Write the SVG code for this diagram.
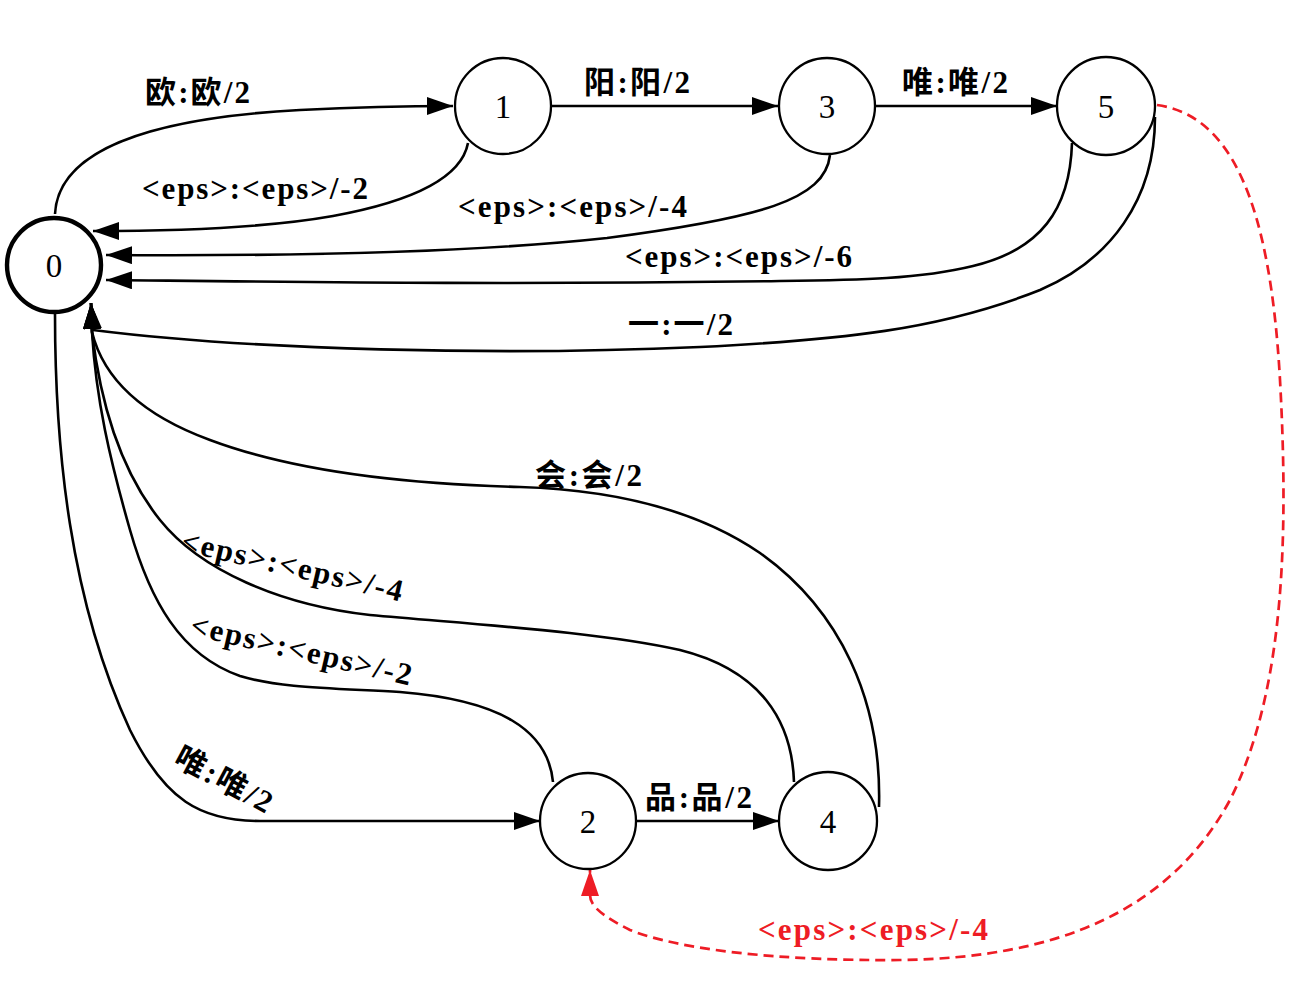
<svg xmlns="http://www.w3.org/2000/svg" width="1300" height="994" viewBox="0 0 1300 994">
<style>
.node{fill:#fff;stroke:#000;stroke-width:2.3}
.start{fill:#fff;stroke:#000;stroke-width:4.4}
.nl{font-family:"Liberation Serif","Noto Sans CJK SC",serif;font-size:33px;fill:#000;text-anchor:middle}
.e{fill:none;stroke:#000;stroke-width:2.6}
.r{fill:none;stroke:#ee1c25;stroke-width:2.7;stroke-dasharray:10 6}
.lb{font-family:"Liberation Serif","Noto Sans CJK SC",serif;font-size:31px;font-weight:bold;fill:#000}
.lr{font-family:"Liberation Serif","Noto Sans CJK SC",serif;font-size:31px;font-weight:bold;fill:#ee1c25}
</style>
<defs>
<marker id="ah" markerUnits="userSpaceOnUse" markerWidth="26" markerHeight="18" refX="26" refY="9" orient="auto"><path d="M0,0 L26,9 L0,18 z" fill="#000"/></marker>
<marker id="ahr" markerUnits="userSpaceOnUse" markerWidth="26" markerHeight="18" refX="26" refY="9" orient="auto"><path d="M0,0 L26,9 L0,18 z" fill="#ee1c25"/></marker>
</defs>
<rect width="1300" height="994" fill="#fff"/>
<g id="connectors">
<path class="e" marker-end="url(#ah)" d="M55,214 C58,150 150,118 300,110 C360,107 400,106 453,106"/>
<path class="e" marker-end="url(#ah)" d="M551,106 L778,106"/>
<path class="e" marker-end="url(#ah)" d="M876,106 L1057,106"/>
<path class="e" marker-end="url(#ah)" d="M468,143 C462,175 420,200 333,216 C260,229 160,231 93,231"/>
<path class="e" marker-end="url(#ah)" d="M830,155 C825,200 760,218 607,238 C450,255 250,256 106,255"/>
<path class="e" marker-end="url(#ah)" d="M1072,143 C1070,210 1040,250 973,266 C920,279 860,280 780,281 C500,285 300,282 106,280"/>
<path class="e" marker-end="url(#ah)" d="M1155,117 C1155,200 1110,260 1040,290 C940,330 840,340 700,347 C500,356 250,350 93,330 L91,303"/>
<path class="e" marker-end="url(#ah)" d="M879,807 C882,700 840,610 760,553 C700,512 620,490 520,487 C400,484 290,470 210,440 C150,418 105,385 92,332 L91,303"/>
<path class="e" marker-end="url(#ah)" d="M794,782 C792,720 760,670 680,650 C600,632 480,625 370,615 C280,605 200,570 160,520 C120,470 100,400 92,332 L91,303"/>
<path class="e" marker-end="url(#ah)" d="M553,782 C548,730 500,700 400,692 C330,688 280,688 240,676 C180,655 150,600 130,530 C110,460 96,400 92,332 L91,303"/>
<path class="e" marker-end="url(#ah)" d="M55,314 C55,450 70,600 130,730 C165,800 200,821 260,821 L540,821"/>
<path class="e" marker-end="url(#ah)" d="M636,821 L779,821"/>
<path class="r" marker-end="url(#ahr)" d="M1157,105 C1230,115 1270,200 1280,380 C1290,560 1280,700 1230,800 C1170,910 1060,958 900,960 C780,961 680,950 630,930 C600,915 590,905 590,895 L590,870"/>
<text class="lb" x="145" y="103" textLength="105" lengthAdjust="spacing">欧:欧/2</text>
<text class="lb" x="584" y="93" textLength="106" lengthAdjust="spacing">阳:阳/2</text>
<text class="lb" x="902" y="93" textLength="106" lengthAdjust="spacing">唯:唯/2</text>
<text class="lb" x="142" y="199" textLength="226" lengthAdjust="spacing">&lt;eps&gt;:&lt;eps&gt;/-2</text>
<text class="lb" x="458" y="217" textLength="229" lengthAdjust="spacing">&lt;eps&gt;:&lt;eps&gt;/-4</text>
<text class="lb" x="625" y="267" textLength="227" lengthAdjust="spacing">&lt;eps&gt;:&lt;eps&gt;/-6</text>
<text class="lb" x="628" y="335" textLength="105" lengthAdjust="spacing">一:一/2</text>
<text class="lb" x="535" y="486" textLength="107" lengthAdjust="spacing">会:会/2</text>
<text class="lb" transform="translate(290,576) rotate(13)" x="-113" y="0" textLength="226" lengthAdjust="spacing">&lt;eps&gt;:&lt;eps&gt;/-4</text>
<text class="lb" transform="translate(299,660) rotate(13)" x="-113" y="0" textLength="226" lengthAdjust="spacing">&lt;eps&gt;:&lt;eps&gt;/-2</text>
<text class="lb" transform="translate(219,789) rotate(28)" x="-53" y="0" textLength="106" lengthAdjust="spacing">唯:唯/2</text>
<text class="lb" x="645" y="808" textLength="107" lengthAdjust="spacing">品:品/2</text>
<text class="lr" x="758" y="940" textLength="230" lengthAdjust="spacing">&lt;eps&gt;:&lt;eps&gt;/-4</text>
</g>
<g id="node0"><circle class="start" cx="54" cy="265" r="47"/><text class="nl" x="54" y="277">0</text></g>
<g id="node1"><circle class="node" cx="503" cy="106" r="48"/><text class="nl" x="503" y="118">1</text></g>
<g id="node3"><circle class="node" cx="827" cy="106" r="48"/><text class="nl" x="827" y="118">3</text></g>
<g id="node5"><circle class="node" cx="1106" cy="106" r="49"/><text class="nl" x="1106" y="118">5</text></g>
<g id="node2"><circle class="node" cx="588" cy="821" r="48"/><text class="nl" x="588" y="833">2</text></g>
<g id="node4"><circle class="node" cx="828" cy="821" r="49"/><text class="nl" x="828" y="833">4</text></g>
</svg>
